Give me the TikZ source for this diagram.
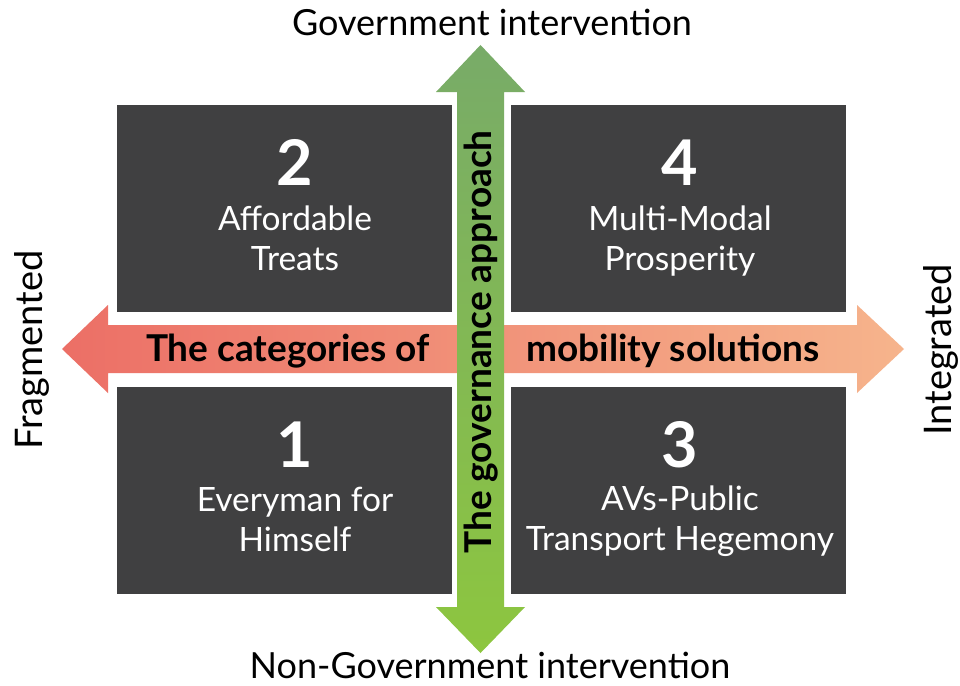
\documentclass[tikz,border=0pt]{standalone}
\usepackage{fontspec}
\setmainfont{Lato}
\usepackage{tikz}
\definecolor{quadgray}{HTML}{404041}
\definecolor{greentop}{HTML}{78AB68}
\definecolor{greenbottom}{HTML}{8DC63F}
\definecolor{redleft}{HTML}{EC6F66}
\definecolor{redright}{HTML}{F6B48C}
\tikzset{
  quadrant/.style={fill=quadgray,minimum width=335pt,minimum height=207pt,inner sep=0pt},
  quadrant number/.style={text=white,anchor=base,font=\bfseries\fontsize{63}{63}\selectfont},
  quadrant label/.style={text=white,anchor=base,align=center,font=\fontsize{33.5}{40}\selectfont},
  axis label/.style={anchor=base,font=\fontsize{36}{36}\selectfont},
  side label/.style={anchor=base,rotate=90,font=\fontsize{38}{38}\selectfont},
  arrow text/.style={anchor=base,font=\bfseries\fontsize{37}{37}\selectfont},
}

\begin{document}
\begin{tikzpicture}[x=1pt,y=-1pt]
\useasboundingbox[fill=white] (0,0) rectangle (960,685);

\node[quadrant] (q2) at (284.5,208.5) {};
\node[quadrant] (q4) at (678.5,208.5) {};
\node[quadrant] (q1) at (284.5,490) {};
\node[quadrant] (q3) at (678.5,490) {};

\shade[left color=redleft,right color=redright]
  (62,349) -- (108,305) -- (108,325) -- (857,325) -- (857,305) -- (904,349)
  -- (857,393) -- (857,373) -- (108,373) -- (108,393) -- cycle;
\shade[top color=greentop,bottom color=greenbottom]
  (480.5,45) -- (525,92) -- (504,92) -- (504,607) -- (525,607) -- (480.5,653)
  -- (436,607) -- (457,607) -- (457,92) -- (436,92) -- cycle;

\node[quadrant number] (n2) at (295,185) {2};
\node[quadrant label] (l2) at (295,270) {Affordable\\Treats};
\node[quadrant number] (n4) at (680,185) {4};
\node[quadrant label] (l4) at (680,270) {Multi-Modal\\Prosperity};
\node[quadrant number] (n1) at (295,467) {1};
\node[quadrant label] (l1) at (295,551) {Everyman for\\Himself};
\node[quadrant number] (n3) at (680,467) {3};
\node[quadrant label] (l3) at (680,550) {AVs-Public\\Transport Hegemony};

\node[arrow text] (cat-left) at (288,361) {The categories of};
\node[arrow text] (cat-right) at (673,361) {mobility solutions};
\node[arrow text,rotate=90] (approach) at (491,342) {The governance approach};

\node[axis label] (gov) at (492,36) {Government intervention};
\node[axis label] (nongov) at (490,678) {Non-Government intervention};
\node[side label] (frag) at (42,350) {Fragmented};
\node[side label] (integ) at (951,350) {Integrated};
\end{tikzpicture}
\end{document}
